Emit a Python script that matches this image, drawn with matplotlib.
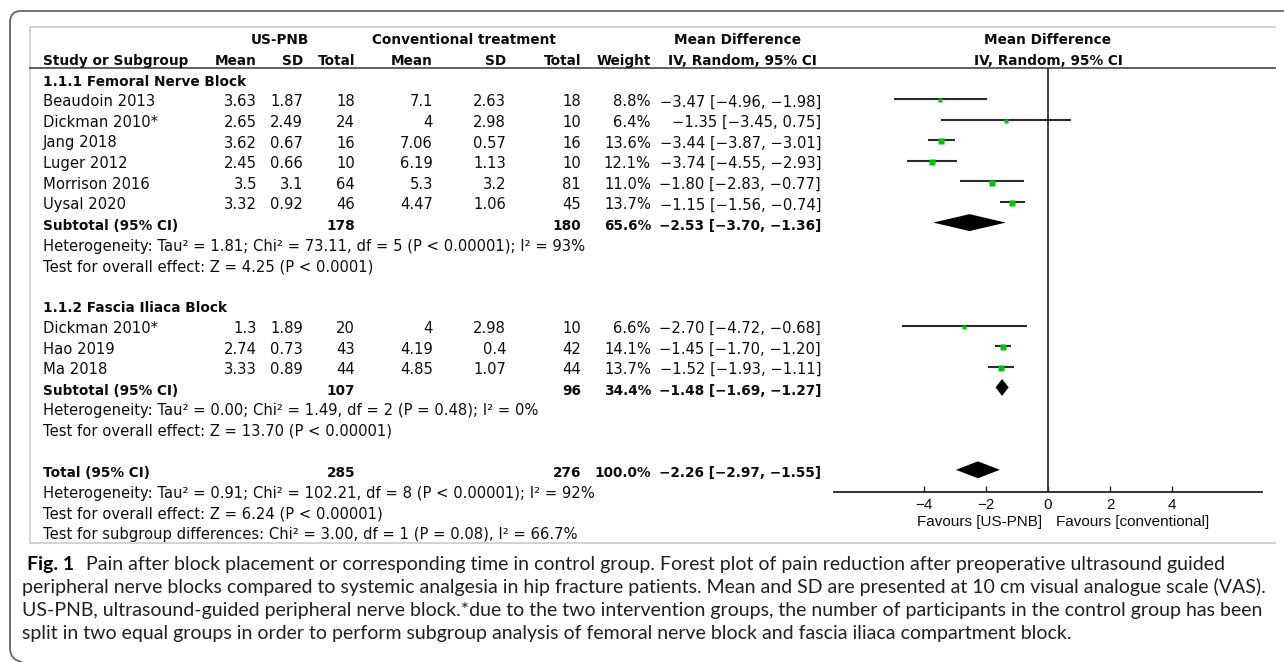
import matplotlib
matplotlib.use("Agg")
import matplotlib.pyplot as plt
from matplotlib.path import Path
from matplotlib.patches import PathPatch
import numpy as np

# ---------------- data ----------------
group1_title = "1.1.1 Femoral Nerve Block"
group1_studies = ["Beaudoin 2013", "Dickman 2010*", "Jang 2018", "Luger 2012", "Morrison 2016", "Uysal 2020"]
group1_pnb_mean = [3.63, 2.65, 3.62, 2.45, 3.5, 3.32]
group1_pnb_sd = [1.87, 2.49, 0.67, 0.66, 3.1, 0.92]
group1_pnb_n = [18, 24, 16, 10, 64, 46]
group1_conv_mean = [7.1, 4, 7.06, 6.19, 5.3, 4.47]
group1_conv_sd = [2.63, 2.98, 0.57, 1.13, 3.2, 1.06]
group1_conv_n = [18, 10, 16, 10, 81, 45]
group1_weight = [8.8, 6.4, 13.6, 12.1, 11.0, 13.7]
group1_md = [-3.47, -1.35, -3.44, -3.74, -1.80, -1.15]
group1_lo = [-4.96, -3.45, -3.87, -4.55, -2.83, -1.56]
group1_hi = [-1.98, 0.75, -3.01, -2.93, -0.77, -0.74]
group1_sub_n = [178, 180]
group1_sub_weight = 65.6
group1_sub_ci = [-2.53, -3.70, -1.36]
group1_het = "Heterogeneity: Tau² = 1.81; Chi² = 73.11, df = 5 (P < 0.00001); I² = 93%"
group1_test = "Test for overall effect: Z = 4.25 (P < 0.0001)"

group2_title = "1.1.2 Fascia Iliaca Block"
group2_studies = ["Dickman 2010*", "Hao 2019", "Ma 2018"]
group2_pnb_mean = [1.3, 2.74, 3.33]
group2_pnb_sd = [1.89, 0.73, 0.89]
group2_pnb_n = [20, 43, 44]
group2_conv_mean = [4, 4.19, 4.85]
group2_conv_sd = [2.98, 0.4, 1.07]
group2_conv_n = [10, 42, 44]
group2_weight = [6.6, 14.1, 13.7]
group2_md = [-2.70, -1.45, -1.52]
group2_lo = [-4.72, -1.70, -1.93]
group2_hi = [-0.68, -1.20, -1.11]
group2_sub_n = [107, 96]
group2_sub_weight = 34.4
group2_sub_ci = [-1.48, -1.69, -1.27]
group2_het = "Heterogeneity: Tau² = 0.00; Chi² = 1.49, df = 2 (P = 0.48); I² = 0%"
group2_test = "Test for overall effect: Z = 13.70 (P < 0.00001)"

total_n = [285, 276]
total_weight = 100.0
total_ci = [-2.26, -2.97, -1.55]
total_het = "Heterogeneity: Tau² = 0.91; Chi² = 102.21, df = 8 (P < 0.00001); I² = 92%"
total_test = "Test for overall effect: Z = 6.24 (P < 0.00001)"
subgroup_test = "Test for subgroup differences: Chi² = 3.00, df = 1 (P = 0.08), I² = 66.7%"

x_ticks = [-4, -2, 0, 2, 4]
favours_left = "Favours [US-PNB]"
favours_right = "Favours [conventional]"

header_top = ["US-PNB", "Conventional treatment", "Mean Difference", "Mean Difference"]
header_cols = ["Study or Subgroup", "Mean", "SD", "Total", "Mean", "SD", "Total", "Weight",
               "IV, Random, 95% CI", "IV, Random, 95% CI"]

caption_bold = "Fig. 1"
caption_lines = [
    "Pain after block placement or corresponding time in control group. Forest plot of pain reduction after preoperative ultrasound guided",
    "peripheral nerve blocks compared to systemic analgesia in hip fracture patients. Mean and SD are presented at 10 cm visual analogue scale (VAS).",
    "US-PNB, ultrasound-guided peripheral nerve block.*due to the two intervention groups, the number of participants in the control group has been",
    "split in two equal groups in order to perform subgroup analysis of femoral nerve block and fascia iliaca compartment block.",
]

# ---------------- layout ----------------
W, H, DPI = 1284, 662, 100
fig = plt.figure(figsize=(W / DPI, H / DPI), dpi=DPI)
fig.patch.set_facecolor("white")
bg = fig.add_axes([0, 0, 1, 1])
bg.set_xlim(0, W)
bg.set_ylim(H, 0)
bg.axis("off")

TXT = "#0d0d0d"
FS = 10.6
FSB = 9.8
Y0, STEP = 78.4, 20.6


def ry(k):
    return Y0 + STEP * k


def put(x, k, s, ha="left", bold=False, size=None):
    bg.text(x, ry(k) + 7.3, s, ha=ha, va="baseline", color=TXT,
            fontsize=(size or (FSB if bold else FS)),
            fontweight="bold" if bold else "normal", family="DejaVu Sans")


def m(v):
    return f"{v:g}"


def ci(md, lo, hi):
    return f"{md:.2f} [{lo:.2f}, {hi:.2f}]".replace("-", "\u2212")


# column positions (right edges)
X_NAME = 43
X_PM, X_PS, X_PN = 257, 303, 355
X_CM, X_CS, X_CN = 433, 506, 581
X_W, X_CI = 651, 821
X_ZERO_PX = 1048

# frame
verts = [(W + 5, 11), (21, 11), (10, 11), (10, 22), (10, 648), (10, 660), (22, 662)]
codes = [Path.MOVETO, Path.LINETO, Path.CURVE3, Path.CURVE3, Path.LINETO, Path.CURVE3, Path.CURVE3]
bg.add_patch(PathPatch(Path(verts, codes), fill=False, edgecolor="#666666", lw=1.3))

# inner box
bg.plot([30, 1275], [27, 27], color="#cfcfcf", lw=1.3)
bg.plot([30, 30], [27, 543], color="#cfcfcf", lw=1.3)
bg.plot([30, 1275], [543, 543], color="#cfcfcf", lw=1.3)
bg.plot([30, 1275], [68, 68], color="#555555", lw=1.3)

# headers
put(280, -2, header_top[0], ha="center", bold=True)
put(464, -2, header_top[1], ha="center", bold=True)
put(737, -2, header_top[2], ha="center", bold=True)
put(X_ZERO_PX, -2, header_top[3], ha="center", bold=True)
hx = [(X_NAME, "left"), (X_PM, "right"), (X_PS, "right"), (X_PN, "right"), (X_CM, "right"),
      (X_CS, "right"), (X_CN, "right"), (X_W, "right"), (742, "center"), (X_ZERO_PX, "center")]
for (x, ha), s in zip(hx, header_cols):
    put(x, -1, s, ha=ha, bold=True)

# forest axes
AX_L, AX_R, AX_T, AX_B = 834, 1262, 68, 492
fx = fig.add_axes([AX_L / W, (H - AX_B) / H, (AX_R - AX_L) / W, (AX_B - AX_T) / H])
fx.patch.set_alpha(0)
fx.set_xlim(-6.9, 6.9)
fx.set_ylim((AX_B - Y0) / STEP, (AX_T - Y0) / STEP)
for sp in ["top", "right", "left"]:
    fx.spines[sp].set_visible(False)
fx.spines["bottom"].set_color("#222222")
fx.spines["bottom"].set_linewidth(1.3)
fx.set_yticks([])
fx.set_xticks(x_ticks)
fx.tick_params(axis="x", direction="in", length=4.5, width=1.0, color="#222222",
               labelsize=11.0, pad=4.5, labelcolor=TXT)
for lab in fx.get_xticklabels():
    lab.set_family(["Liberation Sans", "DejaVu Sans"])
fx.axvline(0, color="#333333", lw=1.3)

GREEN = "#00c400"
DH = 0.41


def draw_group(k0, title, studies, pm, ps, pn, cm, cs, cn, w, md, lo, hi, sub_n, sub_w, sub_ci, het, test):
    put(X_NAME, k0, title, bold=True)
    for i in range(len(studies)):
        k = k0 + 1 + i
        put(X_NAME, k, studies[i])
        put(X_PM, k, m(pm[i]), ha="right")
        put(X_PS, k, m(ps[i]), ha="right")
        put(X_PN, k, str(pn[i]), ha="right")
        put(X_CM, k, m(cm[i]), ha="right")
        put(X_CS, k, m(cs[i]), ha="right")
        put(X_CN, k, str(cn[i]), ha="right")
        put(X_W, k, f"{w[i]:.1f}%", ha="right")
        put(X_CI, k, ci(md[i], lo[i], hi[i]), ha="right")
        fx.plot([lo[i], hi[i]], [k, k], color="#2b2b2b", lw=1.5, solid_capstyle="butt")
        fx.plot([md[i]], [k + 0.06], marker="s", ms=1.15 * np.sqrt(w[i]), color=GREEN, mec="none")
    ks = k0 + 1 + len(studies)
    put(X_NAME, ks, "Subtotal (95% CI)", bold=True)
    put(X_PN, ks, str(sub_n[0]), ha="right", bold=True)
    put(X_CN, ks, str(sub_n[1]), ha="right", bold=True)
    put(X_W, ks, f"{sub_w:.1f}%", ha="right", bold=True)
    put(X_CI, ks, ci(*sub_ci), ha="right", bold=True)
    fx.fill([sub_ci[1], sub_ci[0], sub_ci[2], sub_ci[0]], [ks, ks - DH, ks, ks + DH], color="black", lw=0)
    put(X_NAME, ks + 1, het)
    put(X_NAME, ks + 2, test)
    return ks + 4


k = draw_group(0, group1_title, group1_studies, group1_pnb_mean, group1_pnb_sd, group1_pnb_n,
               group1_conv_mean, group1_conv_sd, group1_conv_n, group1_weight, group1_md,
               group1_lo, group1_hi, group1_sub_n, group1_sub_weight, group1_sub_ci,
               group1_het, group1_test)
k = draw_group(k, group2_title, group2_studies, group2_pnb_mean, group2_pnb_sd, group2_pnb_n,
               group2_conv_mean, group2_conv_sd, group2_conv_n, group2_weight, group2_md,
               group2_lo, group2_hi, group2_sub_n, group2_sub_weight, group2_sub_ci,
               group2_het, group2_test)

put(X_NAME, k, "Total (95% CI)", bold=True)
put(X_PN, k, str(total_n[0]), ha="right", bold=True)
put(X_CN, k, str(total_n[1]), ha="right", bold=True)
put(X_W, k, f"{total_weight:.1f}%", ha="right", bold=True)
put(X_CI, k, ci(*total_ci), ha="right", bold=True)
fx.fill([total_ci[1], total_ci[0], total_ci[2], total_ci[0]], [k, k - DH, k, k + DH], color="black", lw=0)
put(X_NAME, k + 1, total_het)
put(X_NAME, k + 2, total_test)
put(X_NAME, k + 3, subgroup_test)

# favours labels
bg.text(X_ZERO_PX - 6, 526, favours_left, ha="right", va="baseline", fontsize=11.0,
        family=["Liberation Sans", "DejaVu Sans"], color=TXT)
bg.text(X_ZERO_PX + 8, 526, favours_right, ha="left", va="baseline", fontsize=11.0,
        family=["Liberation Sans", "DejaVu Sans"], color=TXT)

# caption (fit font size to the reference line widths)
renderer = fig.canvas.get_renderer()
CAP_FONT = ["Lato", "DejaVu Sans"]
probe_w = 0.0
for s in caption_lines[1:3]:
    p = bg.text(22, 600, s, fontsize=13, family=CAP_FONT)
    probe_w += p.get_window_extent(renderer).width
    p.remove()
cap_fs = 13 * ((1257 - 22) + (1262 - 22)) / probe_w
cap_y = [570, 593, 616, 639]
tb = bg.text(27, cap_y[0], caption_bold, fontsize=cap_fs, fontweight="bold", family=CAP_FONT,
             color="#000000", va="baseline")
bw = tb.get_window_extent(renderer).width
bg.text(27 + bw + 12, cap_y[0], caption_lines[0], fontsize=cap_fs, family=CAP_FONT,
        color="#231f20", va="baseline")
for y, s in zip(cap_y[1:], caption_lines[1:]):
    bg.text(22, y, s, fontsize=cap_fs, family=CAP_FONT, color="#231f20", va="baseline")

fig.savefig("out.png", dpi=DPI, facecolor="white")
